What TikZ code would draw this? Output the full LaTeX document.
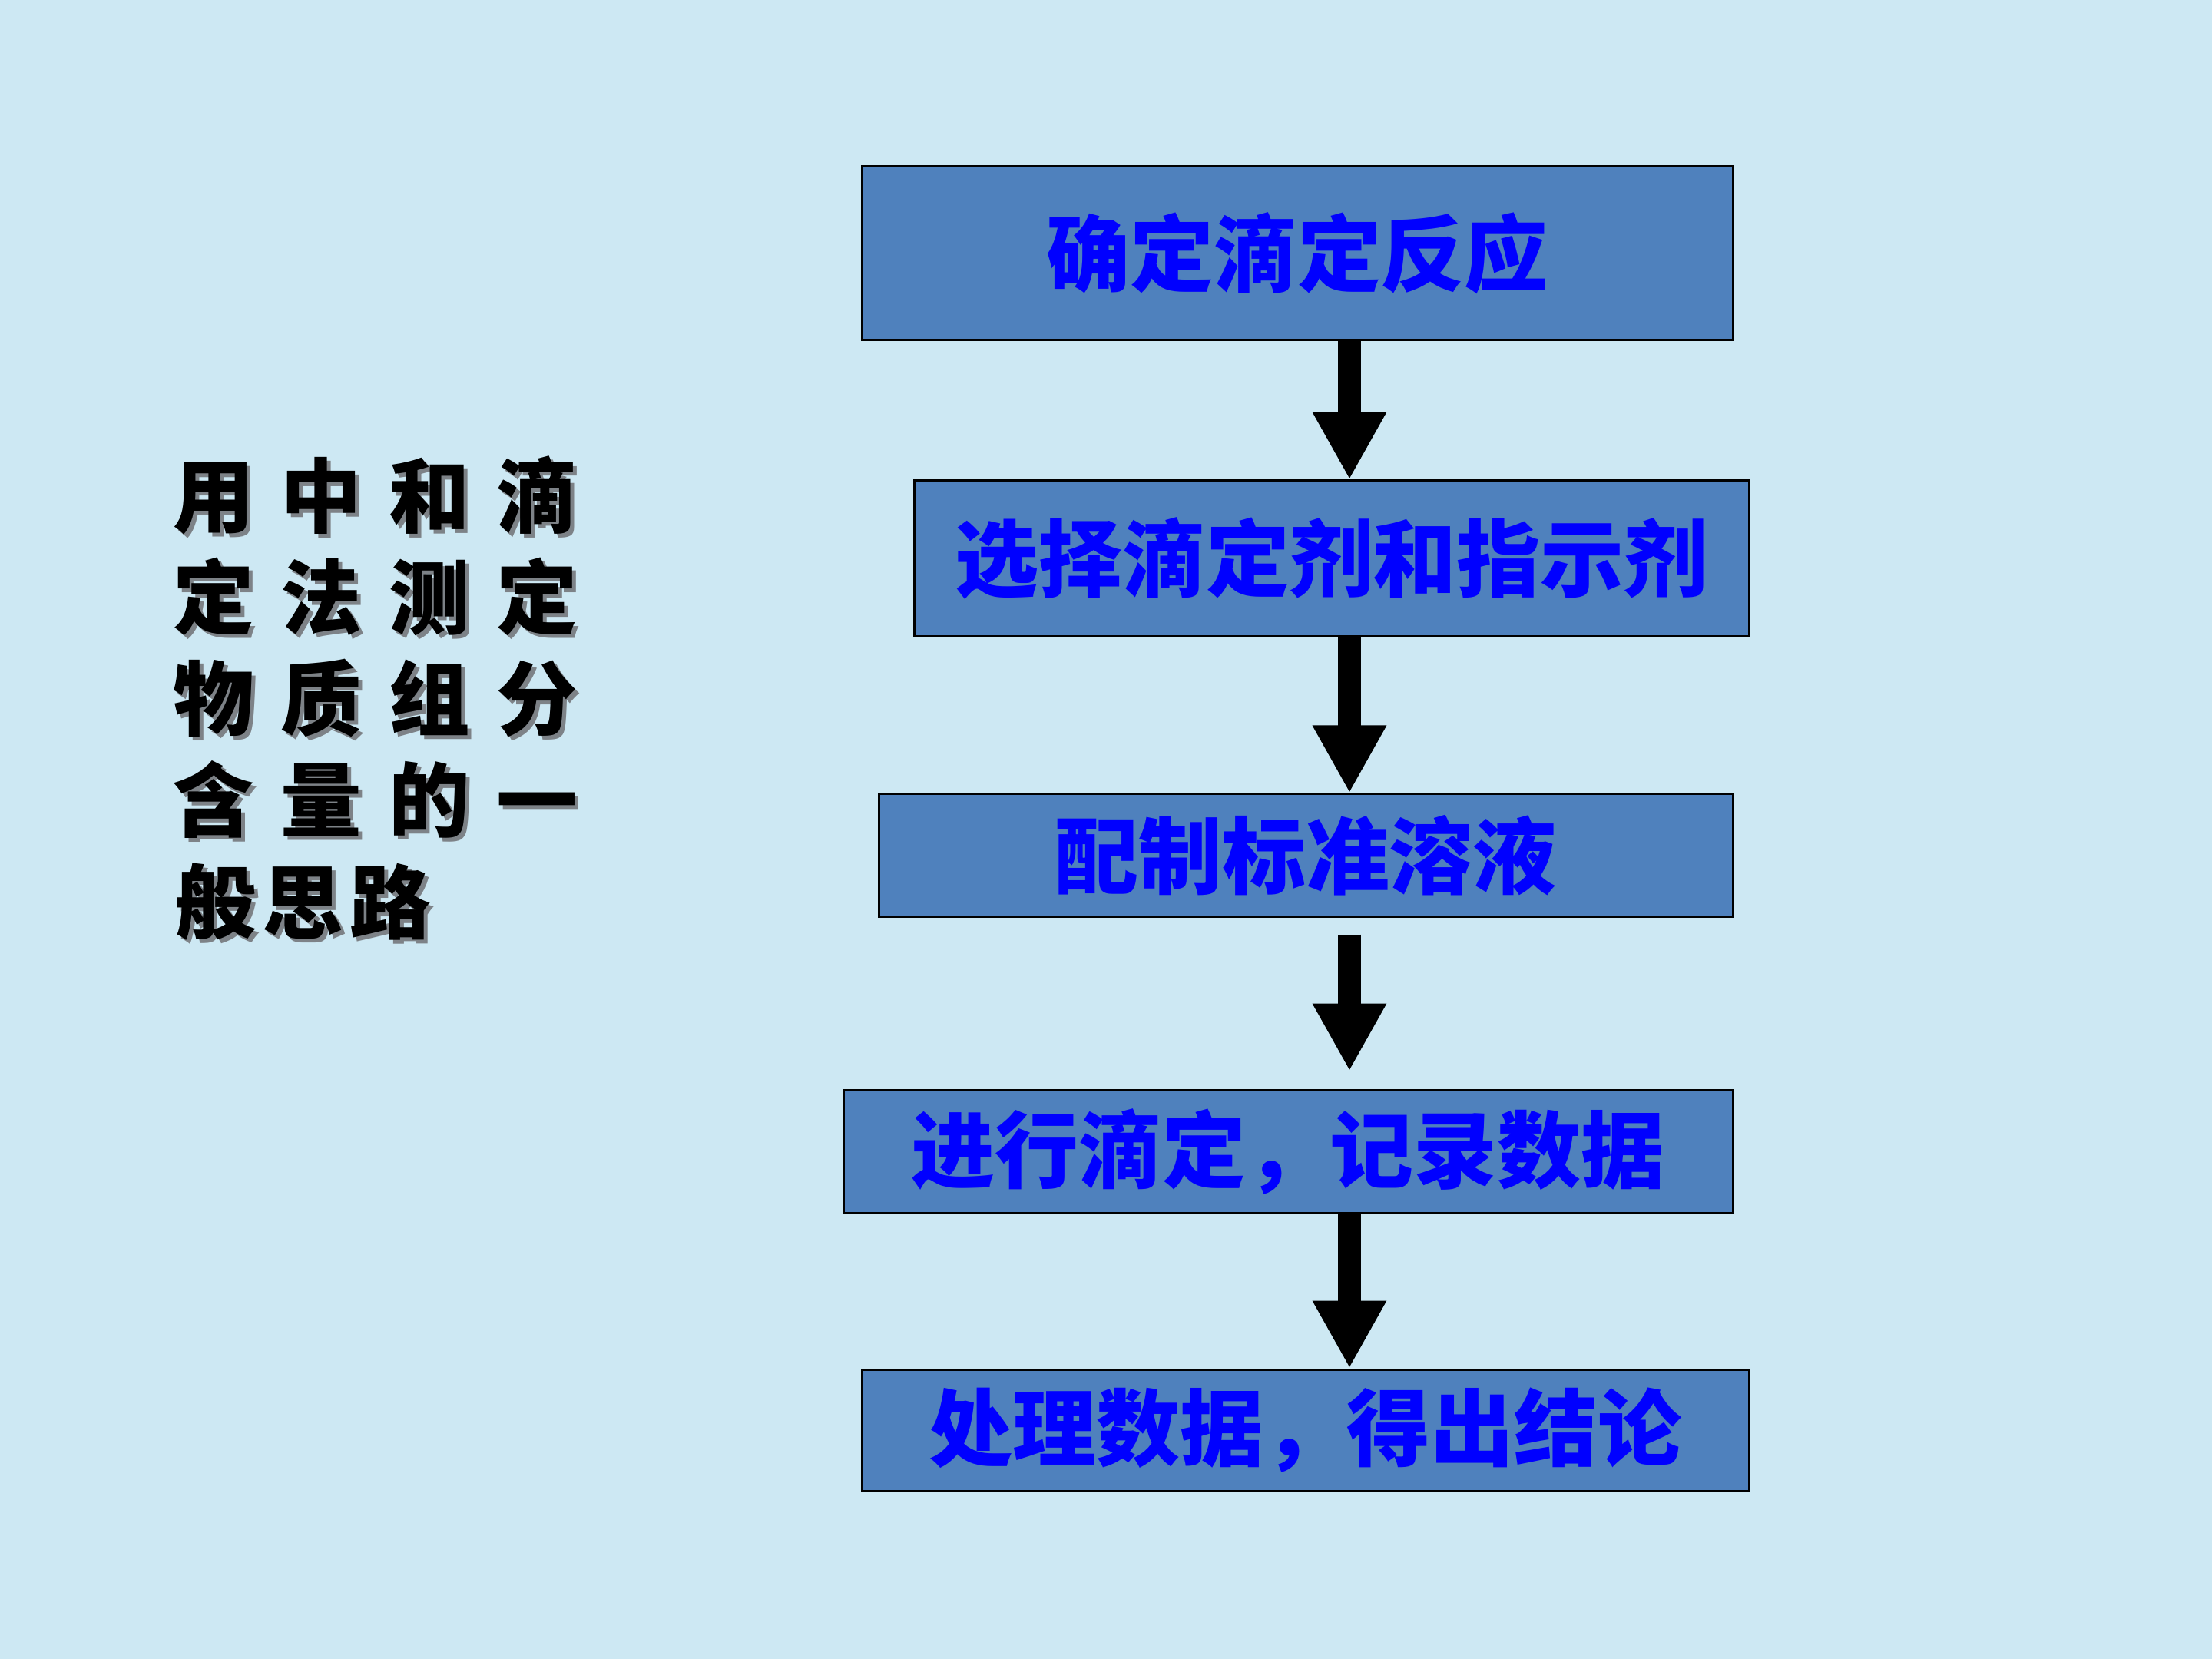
\documentclass[tikz,border=0pt]{standalone}
\usepackage{fontspec}
\newfontfamily\cjk{Noto Sans CJK SC}
\usetikzlibrary{arrows.meta}
\definecolor{bgblue}{RGB}{205,232,243}
\definecolor{boxblue}{RGB}{79,129,189}
\definecolor{textblue}{RGB}{0,0,255}
\definecolor{shadowgray}{RGB}{125,130,135}
\tikzset{
  box/.style={draw=black, line width=0.03cm, fill=boxblue, text=textblue,
    font=\cjk\bfseries\fontsize{31}{31}\selectfont, inner sep=0pt, anchor=center},
  arr/.style={line width=0.3cm, -{Triangle[width=0.9cm,length=0.88cm]}},
  ltxt/.style={font=\cjk\bfseries\fontsize{30}{30}\selectfont, inner sep=0pt, anchor=west, text=black},
  lshadow/.style={ltxt, text=shadowgray}
}
\newcommand\lrow[4]{%
  \node[lshadow] (s#1) at ({#2+0.05},{#3+0.05}) {#4};
  \node[ltxt] (r#1) at (#2,#3) {#4};}
\begin{document}
\begin{tikzpicture}[x=1cm,y=-1cm]
\fill[bgblue] (0,0) rectangle (28.8,21.6);
\useasboundingbox (0,0) rectangle (28.8,21.6);

\node[box, minimum width=11.34cm, minimum height=2.26cm] (b1) at (16.89,3.30) {确定滴定反应};
\node[box, minimum width=10.87cm, minimum height=2.03cm] (b2) at (17.335,7.275) {选择滴定剂和指示剂};
\node[box, minimum width=11.12cm, minimum height=1.59cm] (b3) at (17.00,11.135) {配制标准溶液};
\node[box, minimum width=11.58cm, minimum height=1.60cm] (b4) at (16.77,14.99) {进行滴定，记录数据};
\node[box, minimum width=11.55cm, minimum height=1.58cm] (b5) at (16.995,18.62) {处理数据，得出结论};

\coordinate (ax) at (17.57,0);
\draw[arr] (b1.south -| ax) -- (b2.north -| ax);
\draw[arr] (b2.south -| ax) -- (b3.north -| ax);
\draw[arr, shorten <=0.22cm, shorten >=0.23cm] (b3.south -| ax) -- (b4.north -| ax);
\draw[arr] (b4.south -| ax) -- (b5.north -| ax);

\lrow{1}{2.25}{6.45}{\hbox to 5.26cm{用\hfill 中\hfill 和\hfill 滴}}
\lrow{2}{2.25}{7.77}{\hbox to 5.26cm{定\hfill 法\hfill 测\hfill 定}}
\lrow{3}{2.25}{9.09}{\hbox to 5.26cm{物\hfill 质\hfill 组\hfill 分}}
\lrow{4}{2.25}{10.41}{\hbox to 5.26cm{含\hfill 量\hfill 的\hfill 一}}
\lrow{5}{2.275}{11.74}{\hbox to 3.33cm{般\hfill 思\hfill 路}}
\end{tikzpicture}
\end{document}
